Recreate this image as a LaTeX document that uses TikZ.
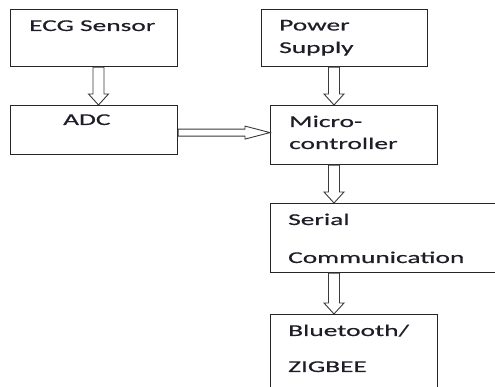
\documentclass[tikz,border=0pt]{standalone}
\usepackage{fontspec}
\newfontfamily\labfont[FakeStretch=1.66,FakeBold=0.5]{Carlito}
\usetikzlibrary{calc}
\definecolor{edge}{HTML}{262626}
\definecolor{ink}{HTML}{1E1E28}
\definecolor{arrowedge}{HTML}{3A3A3A}
\tikzset{
  box/.style={draw=edge, line width=1.2pt, rectangle, inner sep=0pt, anchor=north west, fill=white},
  lab/.style={anchor=base west, inner sep=0pt, text=ink, font=\labfont\fontsize{16.5}{20}\selectfont},
  vblock/.style={draw=arrowedge, fill=white, line width=0.9pt,
    to path={let \p1=(\tikztostart), \p2=(\tikztotarget) in
      (\x1-5.5pt,\y1) -- (\x1-5.5pt,\y2+11pt) -- (\x1-10pt,\y2+11pt) -- (\x1,\y2)
      -- (\x1+10pt,\y2+11pt) -- (\x1+5.5pt,\y2+11pt) -- (\x1+5.5pt,\y1) -- cycle}},
  hblock/.style={draw=arrowedge, fill=white, line width=0.9pt,
    to path={let \p1=(\tikztostart), \p2=(\tikztotarget) in
      (\x1,\y1+3.5pt) -- (\x2-25pt,\y1+3.5pt) -- (\x2-25pt,\y1+6.5pt) -- (\x2,\y1)
      -- (\x2-25pt,\y1-6.5pt) -- (\x2-25pt,\y1-3.5pt) -- (\x1,\y1-3.5pt) -- cycle}}
}
\begin{document}
\begin{tikzpicture}[x=1pt,y=1pt]
\useasboundingbox (0,0) rectangle (495,387);
\clip (0,0) rectangle (495,387);
\fill[white] (0,0) rectangle (495,387);
% boxes (y measured from top: 387 - y)
\node[box, minimum width=167pt, minimum height=57pt] (ecg) at (10,378) {};
\node[box, minimum width=167pt, minimum height=49pt] (adc) at (10,282) {};
\node[box, minimum width=166pt, minimum height=57pt] (power) at (261,378) {};
\node[box, minimum width=167pt, minimum height=59pt] (micro) at (270,282) {};
\node[box, minimum width=250pt, minimum height=69pt] (serial) at (270,184) {};
\node[box, minimum width=167pt, minimum height=100pt] (bt) at (270,73) {};
% labels
\node[lab] (ecgT) at (29,356) {ECG Sensor};
\node[lab] (adcT) at (63,262) {ADC};
\node[lab] (powerT1) at (279,356.5) {Power};
\node[lab] (powerT2) at (279,334) {Supply};
\node[lab] (microT1) at (289,260) {Micro-};
\node[lab] (microT2) at (289,238) {controller};
\node[lab] (serialT1) at (288,162) {Serial};
\node[lab] (serialT2) at (288,124) {Communication};
\node[lab] (btT1) at (288,51) {Bluetooth/};
\node[lab] (btT2) at (288,15) {ZIGBEE};
% connectors
\coordinate (col) at (334,0);
\coordinate (lcol) at (98.5,0);
\draw[vblock] (lcol |- ecg.south) to (adc.north);
\draw[vblock] (col |- power.south) to (micro.north);
\draw[vblock] (col |- micro.south) to (serial.north);
\draw[vblock] (col |- serial.south) to (bt.north);
\draw[hblock] ($(adc.east)+(0,-2.5)$) to (micro.west);
\end{tikzpicture}
\end{document}
